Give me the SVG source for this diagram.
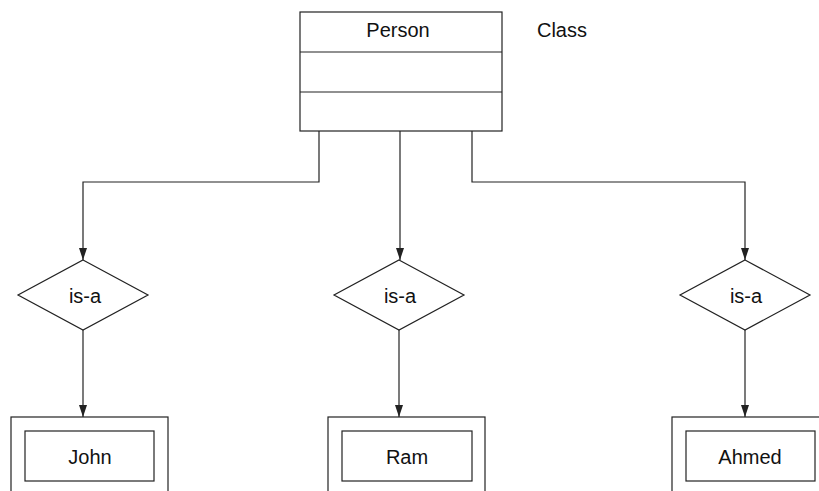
<svg xmlns="http://www.w3.org/2000/svg" width="819" height="491" viewBox="0 0 819 491">
  <style>
    .box { fill: #ffffff; stroke: #222222; stroke-width: 1.2; }
    .line { fill: none; stroke: #222222; stroke-width: 1.2; }
    .label { font-family: "Liberation Sans", Arial, sans-serif; font-size: 20px; fill: #111111; text-anchor: middle; }
  </style>
  <defs>
    <marker id="arrowDown" markerUnits="userSpaceOnUse" markerWidth="8" markerHeight="12" refX="4" refY="12" orient="0" viewBox="0 0 8 12">
      <path d="M0,0 L8,0 L4,12 Z" fill="#222222"/>
    </marker>
  </defs>

  <rect width="819" height="491" fill="#ffffff"/>

  <!-- Class box: Person -->
  <g id="person">
    <rect class="box" x="300" y="12" width="202" height="119"/>
    <line class="line" x1="300" y1="52" x2="502" y2="52"/>
    <line class="line" x1="300" y1="92" x2="502" y2="92"/>
    <text class="label" x="398" y="37">Person</text>
  </g>
  <g id="class-label">
    <text class="label" x="562" y="37">Class</text>
  </g>

  <!-- Connectors -->
  <g id="connectors">
    <path class="line" d="M319,131 V182 H83 V260" marker-end="url(#arrowDown)"/>
    <path class="line" d="M400,131 V260" marker-end="url(#arrowDown)"/>
    <path class="line" d="M472,131 V182 H745 V260" marker-end="url(#arrowDown)"/>
    <path class="line" d="M83,330 V417" marker-end="url(#arrowDown)"/>
    <path class="line" d="M399,330 V417" marker-end="url(#arrowDown)"/>
    <path class="line" d="M745,330 V417" marker-end="url(#arrowDown)"/>
  </g>

  <!-- is-a relations -->
  <g id="isa-1">
    <polygon class="box" points="83,260 148,295 83,330 18,295"/>
    <text class="label" x="85" y="303">is-a</text>
  </g>
  <g id="isa-2">
    <polygon class="box" points="399,260 464,295 399,330 334,295"/>
    <text class="label" x="400" y="303">is-a</text>
  </g>
  <g id="isa-3">
    <polygon class="box" points="745,260 810,295 745,330 680,295"/>
    <text class="label" x="746" y="303">is-a</text>
  </g>

  <!-- Objects -->
  <g id="john">
    <rect class="box" x="11" y="417" width="157" height="90"/>
    <rect class="box" x="25" y="431" width="129" height="50"/>
    <text class="label" x="90" y="464">John</text>
  </g>
  <g id="ram">
    <rect class="box" x="328" y="417" width="157" height="90"/>
    <rect class="box" x="342" y="431" width="130" height="50"/>
    <text class="label" x="407" y="464">Ram</text>
  </g>
  <g id="ahmed">
    <rect class="box" x="672" y="417" width="160" height="90"/>
    <rect class="box" x="686" y="431" width="129" height="50"/>
    <text class="label" x="750" y="464">Ahmed</text>
  </g>
</svg>
